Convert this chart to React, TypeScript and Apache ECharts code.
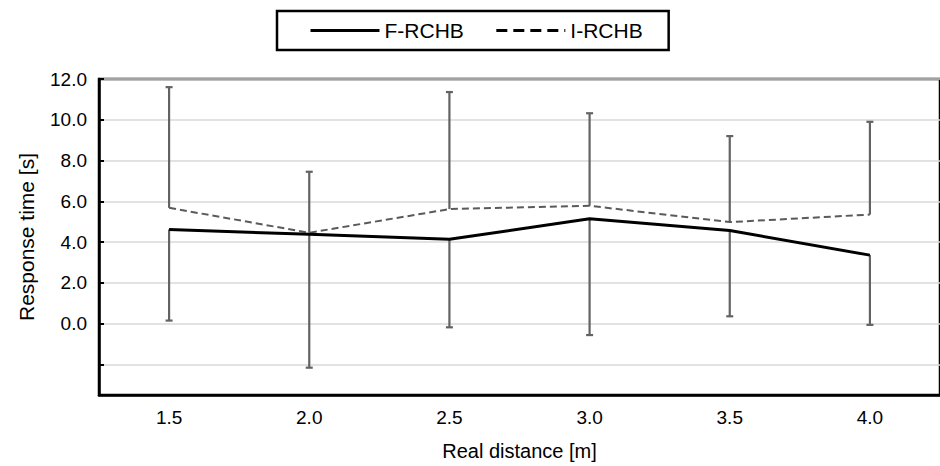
import React, { useEffect, useRef } from "react";
import * as echarts from "echarts";

const categories = ["1.5", "2.0", "2.5", "3.0", "3.5", "4.0"];
const fRCHB = [4.62, 4.38, 4.14, 5.14, 4.57, 3.36];
const iRCHB = [5.68, 4.46, 5.62, 5.78, 4.98, 5.35];
// error bar ends: I-RCHB upward, F-RCHB downward
const iErrTop = [11.6, 7.45, 11.36, 10.32, 9.2, 9.9];
const fErrBottom = [0.15, -2.16, -0.18, -0.56, 0.36, -0.06];
const yLabelValues = [0, 2, 4, 6, 8, 10, 12];
const yTickValues = [-2, 0, 2, 4, 6, 8, 10, 12];

const FONT = "'Liberation Sans', Arial, sans-serif";
const ERR_COLOR = "#636363";

function errorRender(params: any, api: any) {
  const x = api.value(0);
  const a = api.value(1);
  const b = api.value(2);
  const p1 = api.coord([x, a]);
  const p2 = api.coord([x, b]);
  const hw = 3.5;
  return {
    type: "group",
    children: [
      {
        type: "line",
        shape: { x1: p1[0], y1: p1[1], x2: p2[0], y2: p2[1] },
        style: { stroke: ERR_COLOR, lineWidth: 2.2 },
      },
      {
        type: "line",
        shape: { x1: p2[0] - hw, y1: p2[1], x2: p2[0] + hw, y2: p2[1] },
        style: { stroke: ERR_COLOR, lineWidth: 2.2 },
      },
    ],
  };
}

export default function App() {
  const ref = useRef<HTMLDivElement>(null);
  useEffect(() => {
    if (!ref.current) return;
    const chart = echarts.init(ref.current, null, { renderer: "svg" });
    chart.setOption({
      animation: false,
      textStyle: { fontFamily: FONT },
      legend: {
        data: [
          { name: "F-RCHB", lineStyle: { color: "#000", width: 3, type: "solid" } },
          { name: "I-RCHB", lineStyle: { color: "#000", width: 3, type: [11, 6] } },
        ],
        left: 277,
        top: 11,
        padding: [9, 26, 9, 32],
        borderColor: "#000",
        borderWidth: 2.5,
        itemWidth: 69,
        itemHeight: 14,
        itemGap: 31,
        itemStyle: { opacity: 0 },
        textStyle: { fontSize: 21, color: "#000", fontFamily: FONT },
      },
      grid: {
        left: 99,
        right: -2.6,
        top: 79,
        bottom: 69.3,
        show: true,
        borderColor: "#000",
        borderWidth: 2.5,
        backgroundColor: "transparent",
      },
      xAxis: {
        type: "category",
        data: categories,
        boundaryGap: true,
        name: "Real distance [m]",
        nameLocation: "middle",
        nameGap: 46,
        nameTextStyle: { fontSize: 20, color: "#000", fontFamily: FONT },
        axisLine: { show: true, onZero: false, lineStyle: { color: "#000", width: 2.5 } },
        axisTick: { show: false },
        axisLabel: { fontSize: 19, color: "#000", margin: 13, fontFamily: FONT },
        splitLine: { show: false },
      },
      yAxis: {
        type: "value",
        min: -3.5,
        max: 12,
        name: "Response time [s]",
        nameLocation: "middle",
        nameGap: 62,
        nameTextStyle: { fontSize: 21, color: "#000", fontFamily: FONT },
        axisLine: { show: true, lineStyle: { color: "#000", width: 2.5 } },
        axisTick: {
          show: true,
          inside: true,
          length: 5,
          customValues: yTickValues,
          lineStyle: { color: "#000", width: 2 },
        },
        axisLabel: {
          fontSize: 19,
          color: "#000",
          margin: 12,
          customValues: yLabelValues,
          formatter: (v: number) => v.toFixed(1),
          fontFamily: FONT,
        },
        splitLine: { show: true, lineStyle: { color: "#d9d9d9", width: 1.5 } },
      },
      series: [
        {
          name: "I-RCHB err",
          type: "custom",
          z: 1,
          renderItem: errorRender,
          encode: { x: 0, y: [1, 2] },
          data: categories.map((_, i) => [i, iRCHB[i], iErrTop[i]]),
          silent: true,
        },
        {
          name: "F-RCHB err",
          type: "custom",
          z: 1,
          renderItem: errorRender,
          encode: { x: 0, y: [1, 2] },
          data: categories.map((_, i) => [i, fRCHB[i], fErrBottom[i]]),
          silent: true,
        },
        {
          name: "F-RCHB",
          type: "line",
          z: 3,
          data: fRCHB,
          symbol: "none",
          color: "#000",
          lineStyle: { color: "#000", width: 3 },
        },
        {
          name: "I-RCHB",
          type: "line",
          z: 2,
          data: iRCHB,
          symbol: "none",
          color: "#5a5a5a",
          lineStyle: { color: "#5a5a5a", width: 2, type: [7, 4] },
        },
      ],
    });
    return () => chart.dispose();
  }, []);
  return (
    <div
      ref={ref}
      style={{ position: "absolute", left: 0, top: 0, width: 940, height: 466 }}
    />
  );
}
